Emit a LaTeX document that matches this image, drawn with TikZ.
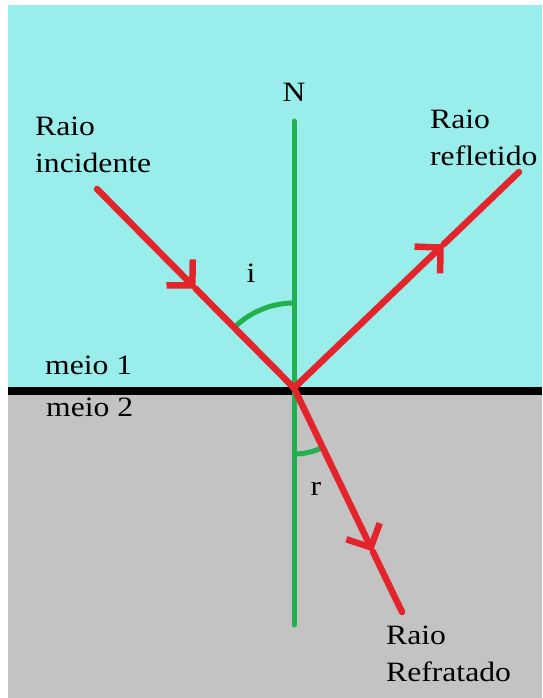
\documentclass[tikz,border=0pt]{standalone}
\usepackage{fontspec}
\setmainfont{Liberation Serif}
\newfontfamily\lblfont[FakeStretch=1.13]{Liberation Serif}
\usepackage{tikz}
\usetikzlibrary{arrows.meta}

\definecolor{cyanbg}{RGB}{153,237,235}
\definecolor{graybg}{RGB}{195,195,195}
\definecolor{rayred}{RGB}{227,36,43}
\definecolor{normgreen}{RGB}{34,177,76}

\begin{document}
\begin{tikzpicture}[x=1pt, y=1pt,
    ray/.style={rayred, line width=6.5, line cap=round},
    mid/.style={-{Straight Barb[length=18, width=37]}},
    lbl/.style={font=\lblfont\fontsize{28}{37}\selectfont, inner sep=0pt}]
    \useasboundingbox (0,0) rectangle (542,698);

    % Two media and the surface between them
    \fill[cyanbg] (8,311) rectangle (542,693);
    \fill[graybg] (8,0) rectangle (542,303);
    \fill[black] (8,303) rectangle (542,311);

    % Points of the rays
    \coordinate (O) at (294,310);
    \coordinate (ntop) at (294,577);
    \coordinate (nbot) at (294,73);
    \coordinate (inc) at (97,509);
    \coordinate (refl) at (519,526);
    \coordinate (refr) at (402,86);
    \path (inc) -- (O) coordinate[pos=0.5] (incarr);
    \path (O) -- (refl) coordinate[pos=0.665] (reflarr);
    \path (O) -- (refr) coordinate[pos=0.73] (refrarr);

    % Normal
    \draw[normgreen, line width=5, line cap=round] (ntop) -- (nbot);
    \node[lbl, anchor=base] (N) at (294,596) {N};

    % Angles
    \draw[normgreen, line width=5] (O) ++(90:85) arc[start angle=90, end angle=134, radius=85];
    \draw[normgreen, line width=5] (O) ++(270:66) arc[start angle=270, end angle=296, radius=66];
    \node[lbl, anchor=base] (i) at (251,415) {i};
    \node[lbl, anchor=base] (r) at (316,202) {r};

    % Rays
    \draw[ray, mid] (inc) -- (incarr);
    \draw[ray] (incarr) -- (O);
    \draw[ray, mid] (O) -- (reflarr);
    \draw[ray] (reflarr) -- (refl);
    \draw[ray, mid] (O) -- (refrarr);
    \draw[ray] (refrarr) -- (refr);

    % Labels
    \node[lbl, anchor=north west, align=left] (inclbl) at (35,581) {Raio\\incidente};
    \node[lbl, anchor=north west, align=left] (refllbl) at (430,588) {Raio\\refletido};
    \node[lbl, anchor=north west, align=left] (refrlbl) at (386,72) {Raio\\Refratado};
    \node[lbl, anchor=base west] (m1) at (45,323) {meio 1};
    \node[lbl, anchor=base west] (m2) at (46,281) {meio 2};
\end{tikzpicture}
\end{document}
